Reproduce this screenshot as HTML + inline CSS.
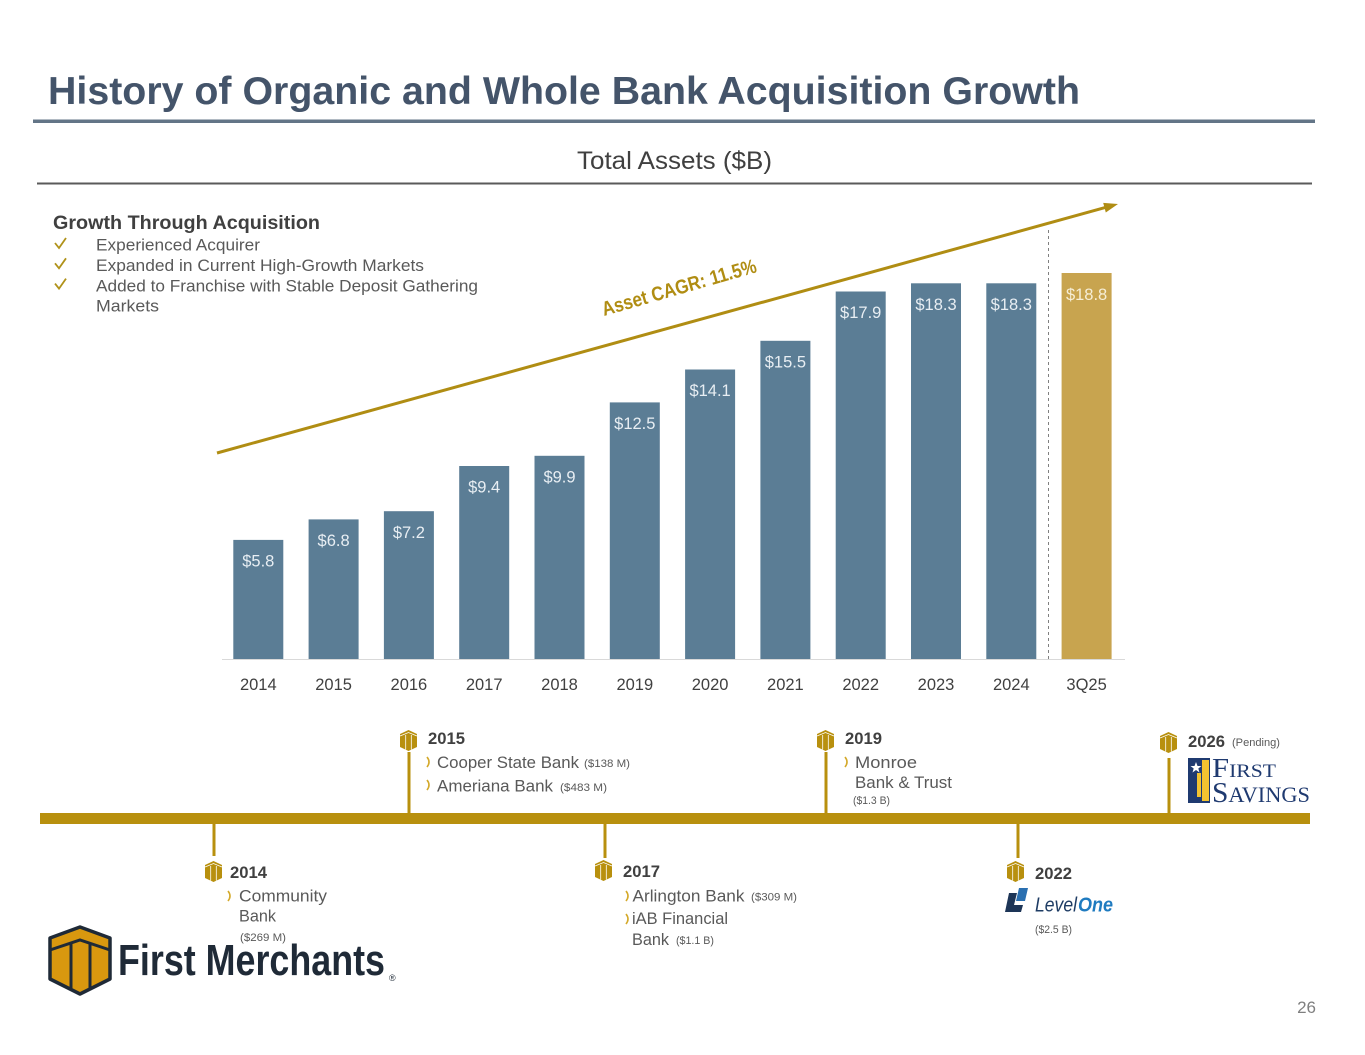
<!DOCTYPE html>
<html><head><meta charset="utf-8"><style>
html,body{margin:0;padding:0;background:#fff;}
svg{display:block;font-family:"Liberation Sans",sans-serif;}
</style></head><body>
<svg width="1365" height="1055" viewBox="0 0 1365 1055" xmlns="http://www.w3.org/2000/svg">
<rect width="1365" height="1055" fill="#fff"/>

<!-- Title -->
<text x="48" y="104" font-size="39" font-weight="bold" fill="#44546a" textLength="1032" lengthAdjust="spacingAndGlyphs">History of Organic and Whole Bank Acquisition Growth</text>
<rect x="33" y="119.5" width="1282" height="3.5" fill="#637587"/>

<text x="577" y="169" font-size="25" fill="#404040" textLength="195" lengthAdjust="spacingAndGlyphs">Total Assets ($B)</text>
<rect x="37" y="182.5" width="1275" height="2" fill="#5a5a5a"/>

<!-- Growth block -->
<text x="53" y="229" font-size="19" font-weight="bold" fill="#404040" textLength="267" lengthAdjust="spacingAndGlyphs">Growth Through Acquisition</text>
<g fill="none" stroke="#b0921a" stroke-width="1.8">
<polyline points="55,243 59,248 66,238"/>
<polyline points="55,263.3 59,268.3 66,258.3"/>
<polyline points="55,283.6 59,288.6 66,278.6"/>
</g>
<g font-size="16.5" fill="#595959">
<text x="96" y="250.7" textLength="164" lengthAdjust="spacingAndGlyphs">Experienced Acquirer</text>
<text x="96" y="271" textLength="328" lengthAdjust="spacingAndGlyphs">Expanded in Current High-Growth Markets</text>
<text x="96" y="291.7" textLength="382" lengthAdjust="spacingAndGlyphs">Added to Franchise with Stable Deposit Gathering</text>
<text x="96" y="311.7" textLength="63" lengthAdjust="spacingAndGlyphs">Markets</text>
</g>

<!-- Axis & dashed -->
<line x1="222" y1="659.5" x2="1125" y2="659.5" stroke="#d9d9d9" stroke-width="1"/>
<line x1="1048.5" y1="230" x2="1048.5" y2="659" stroke="#808080" stroke-width="1" stroke-dasharray="3,3"/>

<!-- Bars -->
<g fill="#5b7d95">
<rect x="233.3" y="539.9" width="50" height="119.1"/>
<rect x="308.6" y="519.4" width="50" height="139.6"/>
<rect x="383.9" y="511.2" width="50" height="147.8"/>
<rect x="459.2" y="466.0" width="50" height="193.0"/>
<rect x="534.5" y="455.8" width="50" height="203.2"/>
<rect x="609.8" y="402.4" width="50" height="256.6"/>
<rect x="685.1" y="369.5" width="50" height="289.5"/>
<rect x="760.4" y="340.8" width="50" height="318.2"/>
<rect x="835.7" y="291.5" width="50" height="367.5"/>
<rect x="911.0" y="283.3" width="50" height="375.7"/>
<rect x="986.3" y="283.3" width="50" height="375.7"/>
</g>
<rect x="1061.6" y="273.0" width="50" height="386.0" fill="#c8a44f"/>

<g font-size="16.5" fill="#e8eef3" text-anchor="middle">
<text x="258.3" y="566.5">$5.8</text>
<text x="333.6" y="546">$6.8</text>
<text x="408.9" y="537.8">$7.2</text>
<text x="484.2" y="492.6">$9.4</text>
<text x="559.5" y="482.4">$9.9</text>
<text x="634.8" y="429">$12.5</text>
<text x="710.1" y="396.1">$14.1</text>
<text x="785.4" y="367.4">$15.5</text>
<text x="860.7" y="318.1">$17.9</text>
<text x="936.0" y="309.9">$18.3</text>
<text x="1011.3" y="309.9">$18.3</text>
<text x="1086.6" y="300" fill="#f6eed6">$18.8</text>
</g>

<g font-size="16.5" fill="#404040" text-anchor="middle">
<text x="258.3" y="690">2014</text>
<text x="333.6" y="690">2015</text>
<text x="408.9" y="690">2016</text>
<text x="484.2" y="690">2017</text>
<text x="559.5" y="690">2018</text>
<text x="634.8" y="690">2019</text>
<text x="710.1" y="690">2020</text>
<text x="785.4" y="690">2021</text>
<text x="860.7" y="690">2022</text>
<text x="936.0" y="690">2023</text>
<text x="1011.3" y="690">2024</text>
<text x="1086.6" y="690">3Q25</text>
</g>

<!-- Arrow -->
<line x1="217" y1="453" x2="1105" y2="207.6" stroke="#b08d13" stroke-width="3"/>
<polygon points="1118,204 1105.8,212.5 1103.2,202.9" fill="#b08d13"/>
<text transform="translate(604,316) rotate(-16)" font-size="20" font-weight="bold" fill="#b08d13" textLength="160" lengthAdjust="spacingAndGlyphs">Asset CAGR: 11.5%</text>

<!-- Timeline -->
<rect x="40" y="813" width="1270" height="11" fill="#b8900e"/>
<g fill="#b8900e">
<rect x="407.5" y="752" width="3" height="62"/>
<rect x="824.5" y="752" width="3" height="62"/>
<rect x="1167.5" y="758" width="3" height="56"/>
<rect x="212.5" y="823" width="3" height="33"/>
<rect x="603.5" y="823" width="3" height="35"/>
<rect x="1016.5" y="823" width="3" height="35"/>
</g>

<!-- small icons -->
<g transform="translate(400,730)"><polygon points="0,4 8.5,0 17,4 17,17 8.5,21 0,17" fill="#b8900e"/><polyline points="0,6 8.5,2.5 17,6" fill="none" stroke="#fff" stroke-width="0.8"/><line x1="5.7" y1="5" x2="5.7" y2="19.5" stroke="#fff" stroke-width="0.8"/><line x1="11.3" y1="5" x2="11.3" y2="19.5" stroke="#fff" stroke-width="0.8"/></g>
<g transform="translate(817,730)"><polygon points="0,4 8.5,0 17,4 17,17 8.5,21 0,17" fill="#b8900e"/><polyline points="0,6 8.5,2.5 17,6" fill="none" stroke="#fff" stroke-width="0.8"/><line x1="5.7" y1="5" x2="5.7" y2="19.5" stroke="#fff" stroke-width="0.8"/><line x1="11.3" y1="5" x2="11.3" y2="19.5" stroke="#fff" stroke-width="0.8"/></g>
<g transform="translate(1160,732)"><polygon points="0,4 8.5,0 17,4 17,17 8.5,21 0,17" fill="#b8900e"/><polyline points="0,6 8.5,2.5 17,6" fill="none" stroke="#fff" stroke-width="0.8"/><line x1="5.7" y1="5" x2="5.7" y2="19.5" stroke="#fff" stroke-width="0.8"/><line x1="11.3" y1="5" x2="11.3" y2="19.5" stroke="#fff" stroke-width="0.8"/></g>
<g transform="translate(205,861)"><polygon points="0,4 8.5,0 17,4 17,17 8.5,21 0,17" fill="#b8900e"/><polyline points="0,6 8.5,2.5 17,6" fill="none" stroke="#fff" stroke-width="0.8"/><line x1="5.7" y1="5" x2="5.7" y2="19.5" stroke="#fff" stroke-width="0.8"/><line x1="11.3" y1="5" x2="11.3" y2="19.5" stroke="#fff" stroke-width="0.8"/></g>
<g transform="translate(595,860)"><polygon points="0,4 8.5,0 17,4 17,17 8.5,21 0,17" fill="#b8900e"/><polyline points="0,6 8.5,2.5 17,6" fill="none" stroke="#fff" stroke-width="0.8"/><line x1="5.7" y1="5" x2="5.7" y2="19.5" stroke="#fff" stroke-width="0.8"/><line x1="11.3" y1="5" x2="11.3" y2="19.5" stroke="#fff" stroke-width="0.8"/></g>
<g transform="translate(1007,861)"><polygon points="0,4 8.5,0 17,4 17,17 8.5,21 0,17" fill="#b8900e"/><polyline points="0,6 8.5,2.5 17,6" fill="none" stroke="#fff" stroke-width="0.8"/><line x1="5.7" y1="5" x2="5.7" y2="19.5" stroke="#fff" stroke-width="0.8"/><line x1="11.3" y1="5" x2="11.3" y2="19.5" stroke="#fff" stroke-width="0.8"/></g>

<!-- chevrons -->
<g fill="none" stroke="#d4a92a" stroke-width="1.6">
<path d="M427,757 Q431,762 427,767"/>
<path d="M427,780 Q431,785 427,790"/>
<path d="M845,757 Q849,762 845,767"/>
<path d="M228,891 Q232,896 228,901"/>
<path d="M626,891 Q630,896 626,901"/>
<path d="M626,914 Q630,919 626,924"/>
</g>

<!-- year labels -->
<g font-size="16.5" font-weight="bold" fill="#404040">
<text x="428" y="744" textLength="37" lengthAdjust="spacingAndGlyphs">2015</text>
<text x="845" y="744" textLength="37" lengthAdjust="spacingAndGlyphs">2019</text>
<text x="1188" y="747" textLength="37" lengthAdjust="spacingAndGlyphs">2026</text>
<text x="230" y="878" textLength="37" lengthAdjust="spacingAndGlyphs">2014</text>
<text x="623" y="877" textLength="37" lengthAdjust="spacingAndGlyphs">2017</text>
<text x="1035" y="879" textLength="37" lengthAdjust="spacingAndGlyphs">2022</text>
</g>

<g font-size="16.5" fill="#595959">
<text x="437" y="768" textLength="142" lengthAdjust="spacingAndGlyphs">Cooper State Bank</text>
<text x="437" y="791.5" textLength="116" lengthAdjust="spacingAndGlyphs">Ameriana Bank</text>
<text x="855" y="768" textLength="62" lengthAdjust="spacingAndGlyphs">Monroe</text>
<text x="855" y="788" textLength="97" lengthAdjust="spacingAndGlyphs">Bank &amp; Trust</text>
<text x="239" y="901.5" textLength="88" lengthAdjust="spacingAndGlyphs">Community</text>
<text x="239" y="921.5" textLength="37" lengthAdjust="spacingAndGlyphs">Bank</text>
<text x="632.5" y="901.5" textLength="112" lengthAdjust="spacingAndGlyphs">Arlington Bank</text>
<text x="632" y="924" textLength="96" lengthAdjust="spacingAndGlyphs">iAB Financial</text>
<text x="632" y="945" textLength="37" lengthAdjust="spacingAndGlyphs">Bank</text>
</g>
<g font-size="11" fill="#595959">
<text x="584" y="767" textLength="46" lengthAdjust="spacingAndGlyphs">($138 M)</text>
<text x="560" y="791" textLength="47" lengthAdjust="spacingAndGlyphs">($483 M)</text>
<text x="853" y="804" textLength="37" lengthAdjust="spacingAndGlyphs">($1.3 B)</text>
<text x="1232" y="746" textLength="48" lengthAdjust="spacingAndGlyphs">(Pending)</text>
<text x="240" y="941" textLength="46" lengthAdjust="spacingAndGlyphs">($269 M)</text>
<text x="751" y="900.5" textLength="46" lengthAdjust="spacingAndGlyphs">($309 M)</text>
<text x="676" y="944" textLength="38" lengthAdjust="spacingAndGlyphs">($1.1 B)</text>
<text x="1035" y="933" textLength="37" lengthAdjust="spacingAndGlyphs">($2.5 B)</text>
</g>

<!-- First Savings logo -->
<rect x="1188" y="758" width="22" height="45" fill="#1f3a70"/>
<rect x="1202" y="760" width="7" height="41" fill="#f2c230"/>
<polygon points="1196,762 1197.5,766 1201.5,766 1198.3,768.5 1199.5,772.5 1196,770 1192.5,772.5 1193.7,768.5 1190.5,766 1194.5,766" fill="#fff"/>
<rect x="1197" y="773" width="4" height="24" fill="#f2c230"/>
<g font-family="Liberation Serif, serif" fill="#1f3a70">
<text x="1212" y="777" textLength="64" lengthAdjust="spacingAndGlyphs"><tspan font-size="27">F</tspan><tspan font-size="19">IRST</tspan></text>
<text x="1212" y="802" textLength="98" lengthAdjust="spacingAndGlyphs"><tspan font-size="29">S</tspan><tspan font-size="22">AVINGS</tspan></text>
</g>

<!-- LevelOne logo -->
<polygon points="1009,893 1017,893 1014,905 1023,905 1021,912 1005,912" fill="#1d3557"/>
<polygon points="1019,888 1028,888 1025,901 1016,901" fill="#2a6fb0"/>
<text x="1035" y="911.5" font-size="20" font-style="italic" fill="#1e3c64" textLength="42" lengthAdjust="spacingAndGlyphs">Level</text>
<text x="1078" y="911.5" font-size="20" font-style="italic" font-weight="bold" fill="#1f7bc0" textLength="35" lengthAdjust="spacingAndGlyphs">One</text>

<!-- First Merchants logo -->
<polygon points="50,938 80,927 110,938 110,979 80,994 50,979" fill="#d9980f" stroke="#1f2a37" stroke-width="3.5" stroke-linejoin="round"/>
<polyline points="50,950 80,940 110,950" fill="none" stroke="#1f2a37" stroke-width="3"/>
<line x1="71" y1="943" x2="71" y2="989" stroke="#1f2a37" stroke-width="3"/>
<line x1="90" y1="943" x2="90" y2="989" stroke="#1f2a37" stroke-width="3"/>
<text x="118" y="975" font-size="44" font-weight="bold" fill="#1f2a37" textLength="267" lengthAdjust="spacingAndGlyphs">First Merchants</text>
<text x="389" y="981" font-size="9" fill="#1f2a37">®</text>

<!-- Page number -->
<text x="1316" y="1013" font-size="17" fill="#7f7f7f" text-anchor="end">26</text>
</svg>
</body></html>
